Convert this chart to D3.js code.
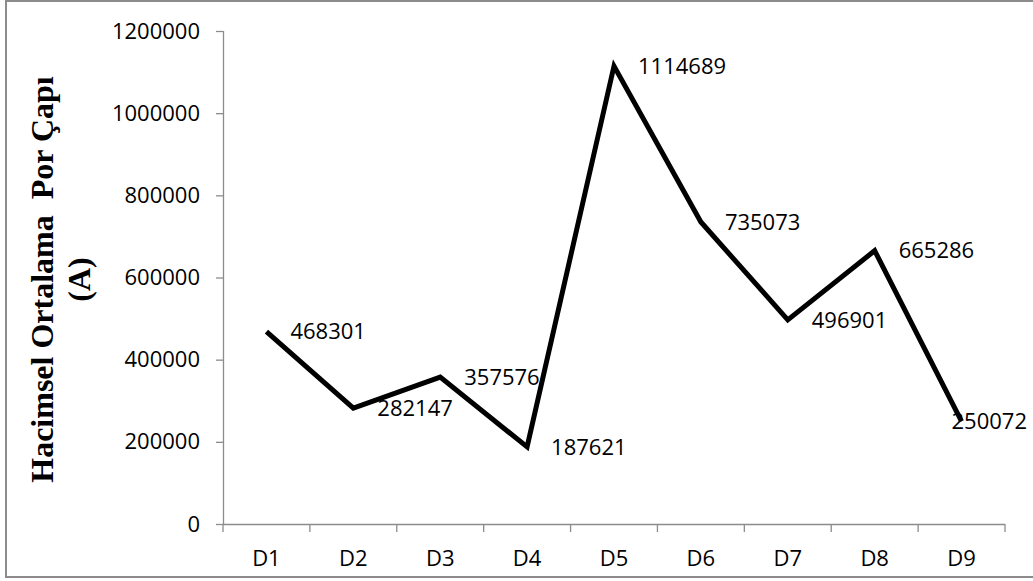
<!DOCTYPE html>
<html>
<head>
<meta charset="utf-8">
<script src="https://cdn.jsdelivr.net/npm/d3@7"></script>
<style>
  html, body { margin: 0; padding: 0; background: #fff; }
  svg { display: block; }
</style>
</head>
<body>
<svg id="chart" width="1033" height="581"></svg>
<script>
// Per-sample values, one point per D-sample
const categories = ["D1", "D2", "D3", "D4", "D5", "D6", "D7", "D8", "D9"];
const values = [468301, 282147, 357576, 187621, 1114689, 735073, 496901, 665286, 250072];
const yTicks = [0, 200000, 400000, 600000, 800000, 1000000, 1200000];
const yTitleLines = ["Hacimsel Ortalama  Por Çapı", "(A)"];

const W = 1033, H = 581;
const plot = { left: 223, right: 1005, top: 31, bottom: 524 };
const sansFont = "'Open Sans', 'Liberation Sans', sans-serif";
const serifFont = "'Liberation Serif', 'DejaVu Serif', serif";
const axisColor = "#8c8c8c";

const svg = d3.select("#chart");

// Outer frame of the chart area
svg.append("path")
  .attr("d", `M${W + 5},1 L6,1 L6,577 L${W + 5},577`)
  .attr("fill", "none")
  .attr("stroke", axisColor)
  .attr("stroke-width", 2);

const x = d3.scaleBand().domain(categories).range([plot.left, plot.right]).padding(0);
const y = d3.scaleLinear().domain([0, 1200000]).range([plot.bottom, plot.top]);

// Y axis
const yAxis = svg.append("g")
  .attr("transform", `translate(${plot.left},0)`)
  .call(d3.axisLeft(y).tickValues(yTicks).tickSize(7).tickPadding(16).tickFormat(d3.format("d")));
yAxis.select(".domain").attr("stroke", axisColor).attr("stroke-width", 1.3)
  .attr("d", `M0.5,${plot.bottom}V${plot.top}`);
yAxis.selectAll(".tick line").attr("stroke", axisColor).attr("stroke-width", 1.3);
yAxis.selectAll(".tick text")
  .attr("font-family", sansFont).attr("font-size", 22).attr("fill", "#000");

// X axis with ticks on band boundaries
const xAxisG = svg.append("g").attr("transform", `translate(0,${plot.bottom})`);
xAxisG.append("line")
  .attr("x1", plot.left).attr("x2", plot.right)
  .attr("y1", 0.5).attr("y2", 0.5)
  .attr("stroke", axisColor).attr("stroke-width", 1.3);
const bounds = categories.map(c => x(c)).concat([x(categories[categories.length - 1]) + x.bandwidth()]);
xAxisG.selectAll("line.tk").data(bounds).enter().append("line")
  .attr("class", "tk")
  .attr("x1", d => d).attr("x2", d => d)
  .attr("y1", 0).attr("y2", 8)
  .attr("stroke", axisColor).attr("stroke-width", 1.3);
xAxisG.selectAll("text").data(categories).enter().append("text")
  .attr("x", d => x(d) + x.bandwidth() / 2)
  .attr("y", 42)
  .attr("text-anchor", "middle")
  .attr("font-family", sansFont).attr("font-size", 22).attr("fill", "#000")
  .text(d => d);

// Y axis title, two lines rotated
const titleG = svg.append("g")
  .attr("transform", `translate(0,${(plot.top + plot.bottom) / 2 + 2}) rotate(-90)`);
titleG.selectAll("text").data(yTitleLines).enter().append("text")
  .attr("x", 0)
  .attr("y", (d, i) => 53 + i * 37)
  .attr("text-anchor", "middle")
  .attr("font-family", serifFont).attr("font-weight", "bold").attr("font-size", 32)
  .attr("fill", "#000")
  .style("white-space", "pre")
  .text(d => d);

// Data line
const pts = categories.map((c, i) => ({ c, v: values[i] }));
const line = d3.line()
  .x(d => x(d.c) + x.bandwidth() / 2)
  .y(d => y(d.v));
svg.append("path")
  .datum(pts)
  .attr("d", line)
  .attr("fill", "none")
  .attr("stroke", "#000")
  .attr("stroke-width", 5)
  .attr("stroke-linejoin", "miter");

// Value labels to the right of each point, kept inside the frame
const labels = svg.append("g");
pts.forEach(d => {
  const px = x(d.c) + x.bandwidth() / 2;
  const t = labels.append("text")
    .attr("y", y(d.v))
    .attr("dy", "0.35em")
    .attr("font-family", sansFont).attr("font-size", 22).attr("fill", "#000")
    .text(d3.format("d")(d.v));
  const w = t.node().getComputedTextLength();
  t.attr("x", Math.min(px + 24, 1027 - w));
});
</script>
</body>
</html>
